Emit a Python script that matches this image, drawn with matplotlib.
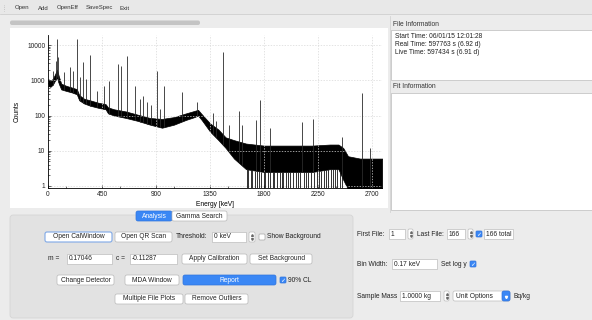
import numpy as np
import matplotlib.pyplot as plt
from matplotlib.patches import FancyBboxPatch, Rectangle

plt.rcParams['font.family'] = ['Liberation Sans', 'DejaVu Sans']

W, H = 592, 320
FS = 4.8

# continuum band of the spectrum, read at anchor energies (keV)
BAND_E = [0, 20, 40, 60, 75, 90, 110, 150, 200, 240, 260, 300, 350, 420, 480,
          500, 550, 650, 750, 850, 950, 1050, 1150, 1220, 1250, 1280, 1350,
          1420, 1480, 1550, 1650, 1800, 2000, 2200, 2350, 2420, 2460, 2500,
          2600, 2785]
BAND_HI = [1100, 950, 1100, 1500, 2000, 1300, 800, 700, 620, 560, 380, 300,
           270, 230, 210, 170, 150, 130, 105, 85, 80, 90, 115, 135, 145, 110,
           60, 40, 24, 20, 16, 14, 14, 14, 15, 15, 12, 7, 6, 6]
BAND_LO = [700, 650, 750, 1000, 1200, 800, 550, 500, 450, 400, 270, 220, 190,
           165, 150, 115, 100, 85, 70, 55, 45, 55, 75, 90, 100, 75, 35, 20,
           12, 6, 3, 2.5, 2.5, 2.5, 3, 3, 1.5, 0.8, 0.8, 0.8]

# photopeaks: energy (keV) and top count
PEAK_E = [40, 63, 75, 87, 133, 186, 210, 239, 270, 295, 314, 352, 408, 463,
          511, 583, 609, 662, 727, 768, 794, 826, 860, 911, 934, 968, 1120,
          1238, 1377, 1401, 1461, 1508, 1588, 1620, 1730, 1764, 1847, 2118,
          2204, 2448, 2614, 2683]
PEAK_H = [1800, 3500, 15000, 4500, 1700, 2300, 1800, 15000, 1200, 3200, 1100,
          5100, 490, 700, 940, 2900, 2500, 4900, 670, 290, 350, 240, 200, 1800,
          150, 700, 450, 240, 120, 70, 6400, 55, 130, 55, 77, 270, 45, 67, 80,
          24, 430, 12]

# channels dropping to a single count in the sparse region
DROP_E = [1655, 1668, 1690, 1702, 1725, 1741, 1760, 1778, 1801, 1812, 1834,
          1850, 1871, 1886, 1905, 1930, 1948, 1960, 1985, 2002, 2020, 2041,
          2066, 2080, 2097, 2130, 2150, 2168, 2192, 2215, 2240, 2258, 2275,
          2300, 2318, 2334, 2356, 2371, 2392, 2410, 2430, 2452]

XTICKS = [0, 450, 900, 1350, 1800, 2250, 2700]
YTICKS = [1, 10, 100, 1000, 10000]

MENU = ['Open', 'Add', 'OpenEff', 'SaveSpec', 'Exit']
MENU_X = [15, 38, 57, 86, 119]
FILE_INFO = ['Start Time: 06/01/15 12:01:28',
             'Real Time: 597763 s (6.92 d)',
             'Live Time: 597434 s (6.91 d)']


def rbox(ax, x0, x1, y0, y1, fc, ec, r=1.5, lw=0.5, z=2):
    ax.add_patch(FancyBboxPatch((x0, y0), x1 - x0, y1 - y0,
                                boxstyle=f"round,pad=0,rounding_size={r}",
                                fc=fc, ec=ec, lw=lw, zorder=z))


def button(ax, x0, x1, y, text, blue=False, focus=False):
    if blue:
        rbox(ax, x0, x1, y - 5, y + 5, '#3a87f5', '#2f73dc', r=2)
        ax.text((x0 + x1) / 2, y, text, fontsize=FS, color='white',
                ha='center', va='center', zorder=3)
    else:
        ec = '#7fa8e6' if focus else '#b8b8b8'
        rbox(ax, x0, x1, y - 5, y + 5, 'white', ec, r=2,
             lw=0.8 if focus else 0.5)
        ax.text((x0 + x1) / 2, y, text, fontsize=FS, color='#222222',
                ha='center', va='center', zorder=3)


def field(ax, x0, x1, y, text):
    ax.add_patch(Rectangle((x0, y - 5), x1 - x0, 10, fc='white',
                           ec='#bdbdbd', lw=0.5, zorder=2))
    ax.text(x0 + 2, y, text, fontsize=FS, color='#222222', va='center',
            zorder=3)


def label(ax, x, y, text):
    ax.text(x, y, text, fontsize=FS, color='#222222', va='center', zorder=3)


def spinner(ax, x0, x1, y):
    rbox(ax, x0, x1, y - 5, y + 5, 'white', '#bdbdbd', r=1.5)
    xc = (x0 + x1) / 2
    ax.plot([xc], [y - 2], marker='^', ms=1.3, color='#666666', zorder=3)
    ax.plot([xc], [y + 2], marker='v', ms=1.3, color='#666666', zorder=3)


def checkbox(ax, x0, y, checked):
    if checked:
        rbox(ax, x0, x0 + 6, y - 3, y + 3, '#3a87f5', '#2f73dc', r=1)
        ax.text(x0 + 3, y + 0.3, '\u2713', fontsize=4.5, color='white',
                ha='center', va='center', family='DejaVu Sans', zorder=3)
    else:
        rbox(ax, x0, x0 + 6, y - 3, y + 3, 'white', '#a8a8a8', r=1)


def main():
    fig = plt.figure(figsize=(W / 100, H / 100), dpi=100)
    fig.patch.set_facecolor('#ececec')

    # GUI layer in pixel coordinates
    gui = fig.add_axes([0, 0, 1, 1])
    gui.set_xlim(0, W)
    gui.set_ylim(H, 0)
    gui.axis('off')

    # menu bar
    gui.add_patch(Rectangle((0, 0), W, 14, fc='#e8e8e8', ec='none', zorder=1))
    gui.plot([0, W], [14, 14], color='#c9c9c9', lw=0.5, zorder=2)
    gui.plot([4, 4], [5, 11], color='#aaaaaa', lw=0.5, ls=':', zorder=2)
    for name, x in zip(MENU, MENU_X):
        gui.text(x, 8, name, fontsize=4.3, color='#333333', va='center',
                 zorder=3)

    # scroll bar and plot panel
    rbox(gui, 10, 200, 20.5, 25, '#c4c4c4', 'none', r=2)
    gui.add_patch(Rectangle((10, 28), 378, 180, fc='white', ec='none',
                            zorder=1))
    gui.plot([389.5, 389.5], [16, 212], color='#d4d4d4', lw=0.6, zorder=2)

    # info panels
    gui.text(393, 24, 'File Information', fontsize=FS, color='#333333',
             va='center', zorder=3)
    gui.add_patch(Rectangle((391, 30), 201, 50, fc='white', ec='#bcbcbc',
                            lw=0.5, zorder=2))
    for i, line in enumerate(FILE_INFO):
        gui.text(395, 37 + i * 8, line, fontsize=FS, color='#222222',
                 va='center', zorder=3)
    gui.text(393, 86, 'Fit Information', fontsize=FS, color='#333333',
             va='center', zorder=3)
    gui.add_patch(Rectangle((391, 93), 201, 117, fc='white', ec='#bcbcbc',
                            lw=0.5, zorder=2))

    # analysis tab panel
    rbox(gui, 10, 353, 215, 318, '#e2e2e2', '#d2d2d2', r=3, z=1)
    rbox(gui, 136, 172, 211, 221, '#3a87f5', '#2f73dc', r=2)
    gui.text(154, 216, 'Analysis', fontsize=FS, color='white', ha='center',
             va='center', zorder=3)
    rbox(gui, 172, 227, 211, 221, 'white', '#b8b8b8', r=2)
    gui.text(199.5, 216, 'Gamma Search', fontsize=FS, color='#222222',
             ha='center', va='center', zorder=3)

    button(gui, 45, 112, 237, 'Open CalWindow', focus=True)
    button(gui, 115, 172, 237, 'Open QR Scan')
    label(gui, 176, 237, 'Threshold:')
    field(gui, 212, 246, 237, '0 keV')
    spinner(gui, 249, 255, 237)
    checkbox(gui, 259, 237, False)
    label(gui, 267, 237, 'Show Background')

    label(gui, 48, 259, 'm =')
    field(gui, 67, 112, 259, '0.17046')
    label(gui, 116, 259, 'c =')
    field(gui, 130, 177, 259, '-0.11287')
    button(gui, 182, 247, 259, 'Apply Calibration')
    button(gui, 250, 312, 259, 'Set Background')

    button(gui, 57, 114, 280, 'Change Detector')
    button(gui, 125, 179, 280, 'MDA Window')
    button(gui, 183, 276, 280, 'Report', blue=True)
    checkbox(gui, 280, 280, True)
    label(gui, 288, 280, '90% CL')

    button(gui, 115, 183, 299, 'Multiple File Plots')
    button(gui, 185, 248, 299, 'Remove Outliers')

    # file controls
    label(gui, 357, 234, 'First File:')
    field(gui, 389, 405, 234, '1')
    spinner(gui, 408, 413, 234)
    label(gui, 417, 234, 'Last File:')
    field(gui, 447, 465, 234, '166')
    spinner(gui, 468, 473, 234)
    checkbox(gui, 476, 234, True)
    field(gui, 484, 513, 234, '166 total')

    label(gui, 357, 264, 'Bin Width:')
    field(gui, 392, 437, 264, '0.17 keV')
    label(gui, 441, 264, 'Set log y')
    checkbox(gui, 470, 264, True)

    label(gui, 357, 296, 'Sample Mass')
    field(gui, 400, 440, 296, '1.0000 kg')
    spinner(gui, 444, 449, 296)
    rbox(gui, 453, 510, 291, 301, 'white', '#bdbdbd', r=2)
    gui.text(456, 296, 'Unit Options', fontsize=FS, color='#222222',
             va='center', zorder=3)
    rbox(gui, 502, 510, 291, 301, '#3a87f5', '#2f73dc', r=2, z=3)
    gui.plot([506], [296.5], marker='v', ms=1.6, color='white', zorder=4)
    label(gui, 513, 296, 'Bq/kg')

    # spectrum axes
    y_top, y_bot = 35, 188
    ax = fig.add_axes([48 / W, 1 - y_bot / H, (382 - 48) / W,
                       (y_bot - y_top) / H])
    ax.patch.set_alpha(0)
    ax.set_yscale('log')
    ax.set_xlim(0, 2783)
    ax.set_ylim(10 ** (-(y_bot - 186) / 35.25), 10 ** ((186 - y_top) / 35.25))

    ax.fill_between(BAND_E, BAND_LO, BAND_HI, color='black', lw=0.5)
    base = np.interp(PEAK_E, BAND_E, BAND_LO)
    ax.vlines(PEAK_E, base, PEAK_H, color='#2a2a2a', lw=0.6)
    drop_top = np.interp(DROP_E, BAND_E, BAND_LO)
    ax.vlines(DROP_E, 0.8, drop_top, color='#111111', lw=0.6)

    ax.set_xticks(XTICKS)
    ax.set_xticks(np.arange(150, 2783, 450), minor=True)
    ax.set_yticks(YTICKS)
    ax.set_yticklabels([str(v) for v in YTICKS])
    ax.tick_params(labelsize=FS, length=2.5, width=0.5, direction='in',
                   pad=2, colors='#222222')
    ax.tick_params(which='minor', length=1.5, width=0.4, direction='in')
    ax.yaxis.set_minor_formatter(plt.NullFormatter())
    ax.grid(True, color='#d8d8d8', lw=0.5, ls=(0, (2, 2)))
    for side in ['top', 'right']:
        ax.spines[side].set_visible(False)
    for side in ['left', 'bottom']:
        ax.spines[side].set_linewidth(0.6)
    ax.set_xlabel('Energy [keV]', fontsize=FS, labelpad=2)
    ax.set_ylabel('Counts', fontsize=FS, labelpad=5)

    fig.savefig('out.png', dpi=100, facecolor=fig.get_facecolor())


if __name__ == '__main__':
    main()
